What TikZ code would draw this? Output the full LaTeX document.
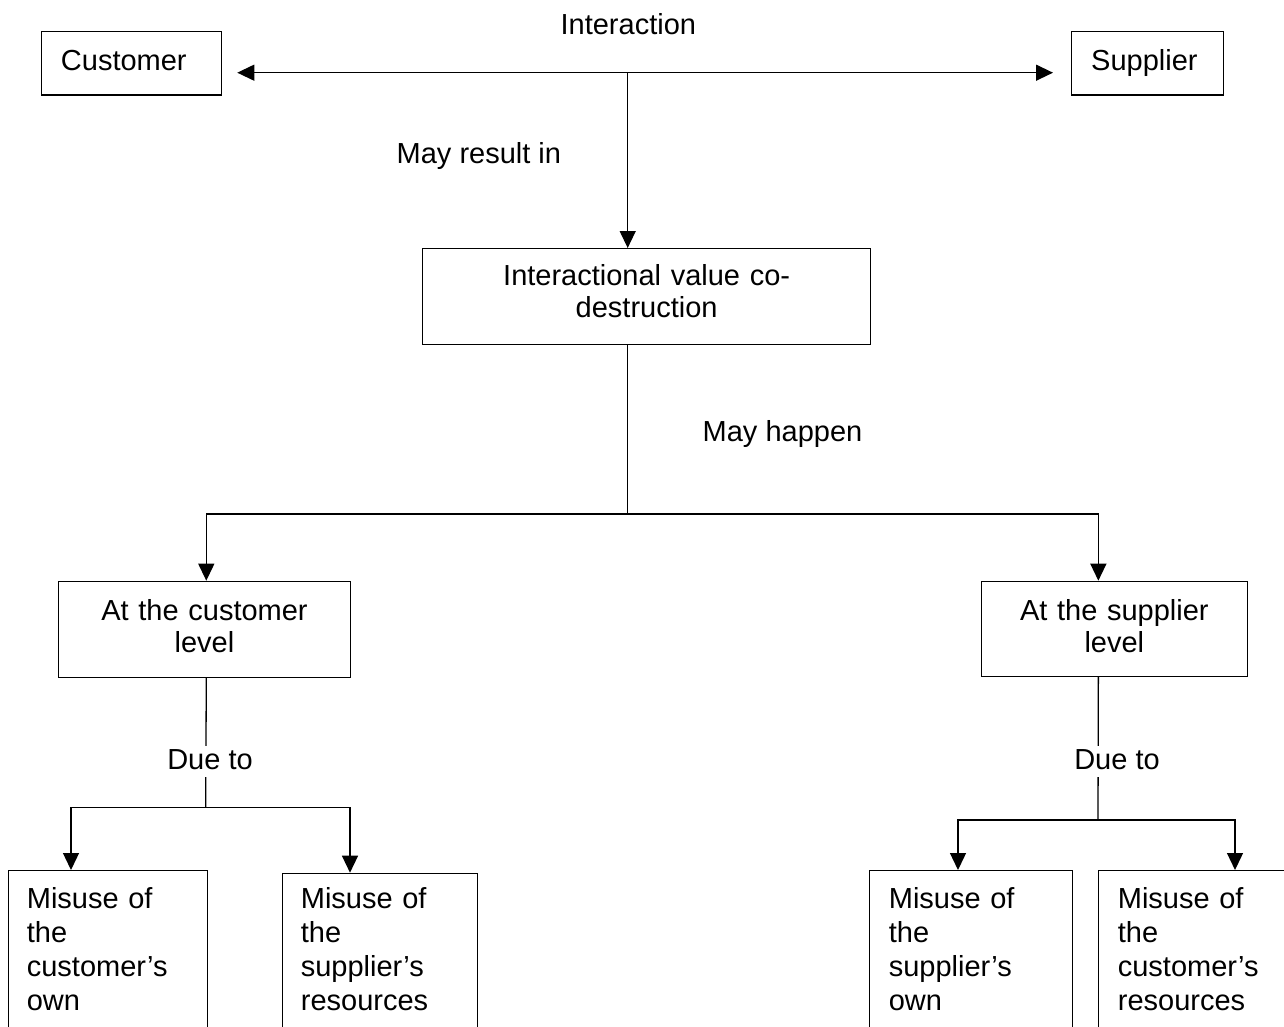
\documentclass[tikz,border=0pt]{standalone}
\usepackage{fontspec}
\setmainfont{Liberation Sans}
\usetikzlibrary{arrows.meta}

\begin{document}
\begin{tikzpicture}[x=1pt,y=-1pt,
  every node/.style={font=\fontsize{29}{34}\selectfont},
  box/.style={draw, line width=1.3pt, anchor=north west, inner ysep=0pt},
  lbox/.style={box, align=left},
  cbox/.style={box, align=center, inner xsep=10pt,
               font=\fontsize{29}{31.7}\selectfont},
  link/.style={line width=1.3pt},
  arr/.style={link, -{Triangle[length=17pt,width=16pt]}},
  lbl/.style={inner sep=0pt},
  gaplbl/.style={fill=white, inner xsep=2pt, inner ysep=0pt,
                 text height=23.3pt, text depth=7.4pt}
]
\useasboundingbox (0,0) rectangle (1284,1027);
\clip (0,0) rectangle (1284,1027);

% top row: the two parties
\node[lbox, inner xsep=19.3pt, text width=141.1pt, text height=39pt, text depth=24.3pt]
  (cust) at (41,31) {Customer};
\node[lbox, inner xsep=19.5pt, text width=112.7pt, text height=39pt, text depth=24.3pt]
  (supp) at (1071,31) {Supplier};

% central outcome
\node[cbox, text width=428pt, text height=37pt, text depth=59pt]
  (icd) at (422,248) {Interactional value co-\\destruction};

% levels
\node[cbox, text width=272.3pt, text height=39.3pt, text depth=56.7pt]
  (clev) at (57.7,580.7) {At the customer\\level};
\node[cbox, text width=246pt, text height=39.3pt, text depth=55.7pt]
  (slev) at (980.7,580.7) {At the supplier\\level};

% causes
\node[lbox, inner xsep=18.5pt, text width=162pt, text height=38pt, text depth=200pt]
  (m1) at (7.7,870) {Misuse of\\the\\customer’s\\own};
\node[lbox, inner xsep=18.5pt, text width=158pt, text height=35.6pt, text depth=200pt]
  (m2) at (281.7,872.7) {Misuse of\\the\\supplier’s\\resources};
\node[lbox, inner xsep=19.2pt, text width=164.3pt, text height=38pt, text depth=200pt]
  (m3) at (869,870) {Misuse of\\the\\supplier’s\\own};
\node[lbox, inner xsep=19.2pt, text width=161.6pt, text height=38pt, text depth=200pt]
  (m4) at (1098,870) {Misuse of\\the\\customer’s\\resources};

% junction points
\coordinate (hub) at (627.7,72.7);
\coordinate (split) at (627.7,514);
\coordinate (jl) at (205.7,807.3);
\coordinate (jr) at (1098,820);

% interaction arrows
\draw[arr, shorten >=15.3pt] (hub) -- (hub -| cust.east);
\draw[arr, shorten >=18pt] (hub) -- (hub -| supp.west);
\draw[arr] (hub) -- (hub |- icd.north);

% from outcome to levels
\draw[link] (split |- icd.south) -- (split);
\draw[arr] (split) -| ([xshift=1.8pt]clev.north);
\draw[arr] (split) -| ([xshift=-16pt]slev.north);

% from levels to causes
\draw[link] ([xshift=1.8pt]clev.south) -- (jl);
\draw[arr] (jl) -| ([xshift=63.3pt]m1.north west);
\draw[arr] (jl) -| ([xshift=68.3pt]m2.north west);
\draw[link] ([xshift=-16pt]slev.south) -- (jr);
\draw[arr] (jr) -| ([xshift=89pt]m3.north west);
\draw[arr] (jr) -| ([xshift=137pt]m4.north west);

% connector labels
\node[lbl, anchor=base] (tInt) at (628.3,34.3) {Interaction};
\node[lbl, anchor=base west] (tRes) at (396.5,163.3) {May result in};
\node[lbl, anchor=base west] (tHap) at (702.5,441) {May happen};
\node[gaplbl, anchor=base] (tDue1) at (210,769.3) {Due to};
\node[gaplbl, anchor=base] (tDue2) at (1117,769.3) {Due to};
\end{tikzpicture}
\end{document}
